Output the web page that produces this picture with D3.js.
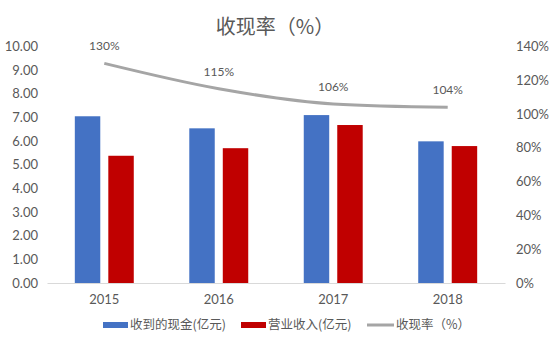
<!DOCTYPE html>
<html>
<head>
<meta charset="utf-8">
<script src="https://cdn.jsdelivr.net/npm/d3@7"></script>
<style>
  body { margin:0; background:#fff; }
  text { font-family: "Noto Sans CJK SC", "Liberation Sans", sans-serif; }
  text.num { font-family: Lato, "Liberation Sans", sans-serif; }
</style>
</head>
<body>
<div id="chart"></div>
<script>
const years = ['2015','2016','2017','2018'];
const cash = [7.05, 6.54, 7.10, 5.99];      // 收到的现金(亿元)
const revenue = [5.38, 5.70, 6.68, 5.79];   // 营业收入(亿元)
const rate = [1.30, 1.15, 1.06, 1.04];      // 收现率
const rateLabels = ['130%','115%','106%','104%'];
const leftTicks = [0,1,2,3,4,5,6,7,8,9,10];
const rightTicks = [0,0.2,0.4,0.6,0.8,1.0,1.2,1.4];

const W = 550, H = 364;
const pad = {l:47, r:45, t:46.5, b:81};
const grey = '#595959';

let svg = d3.select('#chart').append('svg').attr('width',W).attr('height',H);

let x = d3.scaleBand().domain(years).range([pad.l, W-pad.r]).paddingInner(0.485).paddingOuter(0.243);
let sub = d3.scaleBand().domain(['cash','rev']).range([0, x.bandwidth()]).paddingInner(0.24);
let y = d3.scaleLinear().domain([0,10]).range([H-pad.b, pad.t]);
let y2 = d3.scaleLinear().domain([0,1.4]).range([H-pad.b, pad.t]);

// title
svg.append('text').attr('x',275).attr('y',34).attr('text-anchor','middle')
  .attr('font-size',20).attr('fill',grey).text('收现率（%）');

// left axis labels
svg.append('g').selectAll('text').data(leftTicks).enter().append('text').attr('class','num')
  .attr('x',38).attr('y',d => y(d)).attr('dy','0.35em').attr('text-anchor','end')
  .attr('font-size',13).attr('fill',grey).text(d => d.toFixed(2));

// right axis labels
svg.append('g').selectAll('text').data(rightTicks).enter().append('text').attr('class','num')
  .attr('x',516).attr('y',d => y2(d)).attr('dy','0.35em').attr('text-anchor','start')
  .attr('font-size',13).attr('fill',grey).text(d => Math.round(d*100)+'%');

// bars
let groups = svg.append('g').selectAll('g').data(years).enter().append('g')
  .attr('transform', d => 'translate('+x(d)+',0)');
groups.append('rect').attr('x',sub('cash')).attr('width',sub.bandwidth())
  .attr('y',(d,i) => y(cash[i])).attr('height',(d,i) => y(0)-y(cash[i])).attr('fill','#4472c4');
groups.append('rect').attr('x',sub('rev')).attr('width',sub.bandwidth())
  .attr('y',(d,i) => y(revenue[i])).attr('height',(d,i) => y(0)-y(revenue[i])).attr('fill','#c00000');

// baseline + category axis
let xa = svg.append('g').attr('transform','translate(0,'+y(0)+')')
  .call(d3.axisBottom(x).tickSize(0).tickPadding(12));
xa.select('.domain').attr('stroke','#d9d9d9').attr('stroke-width',1.2);
xa.selectAll('text').attr('class','num').attr('font-size',13).attr('fill',grey);

// rate line
let cx = d => x(d) + x.bandwidth()/2;
svg.append('path')
  .attr('d', d3.line().curve(d3.curveMonotoneX)(years.map((d,i) => [cx(d), y2(rate[i])])))
  .attr('fill','none').attr('stroke','#a5a5a5').attr('stroke-width',3);
svg.append('g').selectAll('text').data(years).enter().append('text').attr('class','num')
  .attr('x', d => cx(d)).attr('y',(d,i) => y2(rate[i]) - 13).attr('text-anchor','middle')
  .attr('font-size',12).attr('fill',grey).text((d,i) => rateLabels[i]);

// legend
let lg = svg.append('g').attr('font-size',12.5).attr('fill',grey);
lg.append('rect').attr('x',103).attr('y',322).attr('width',25).attr('height',6).attr('fill','#4472c4');
lg.append('text').attr('x',130).attr('y',325).attr('dy','0.35em').text('收到的现金(亿元)');
lg.append('rect').attr('x',241).attr('y',322).attr('width',25).attr('height',6).attr('fill','#c00000');
lg.append('text').attr('x',268).attr('y',325).attr('dy','0.35em').text('营业收入(亿元)');
lg.append('line').attr('x1',367).attr('x2',394).attr('y1',325).attr('y2',325)
  .attr('stroke','#a5a5a5').attr('stroke-width',3);
lg.append('text').attr('x',396).attr('y',325).attr('dy','0.35em').text('收现率（%）');
</script>
</body>
</html>
